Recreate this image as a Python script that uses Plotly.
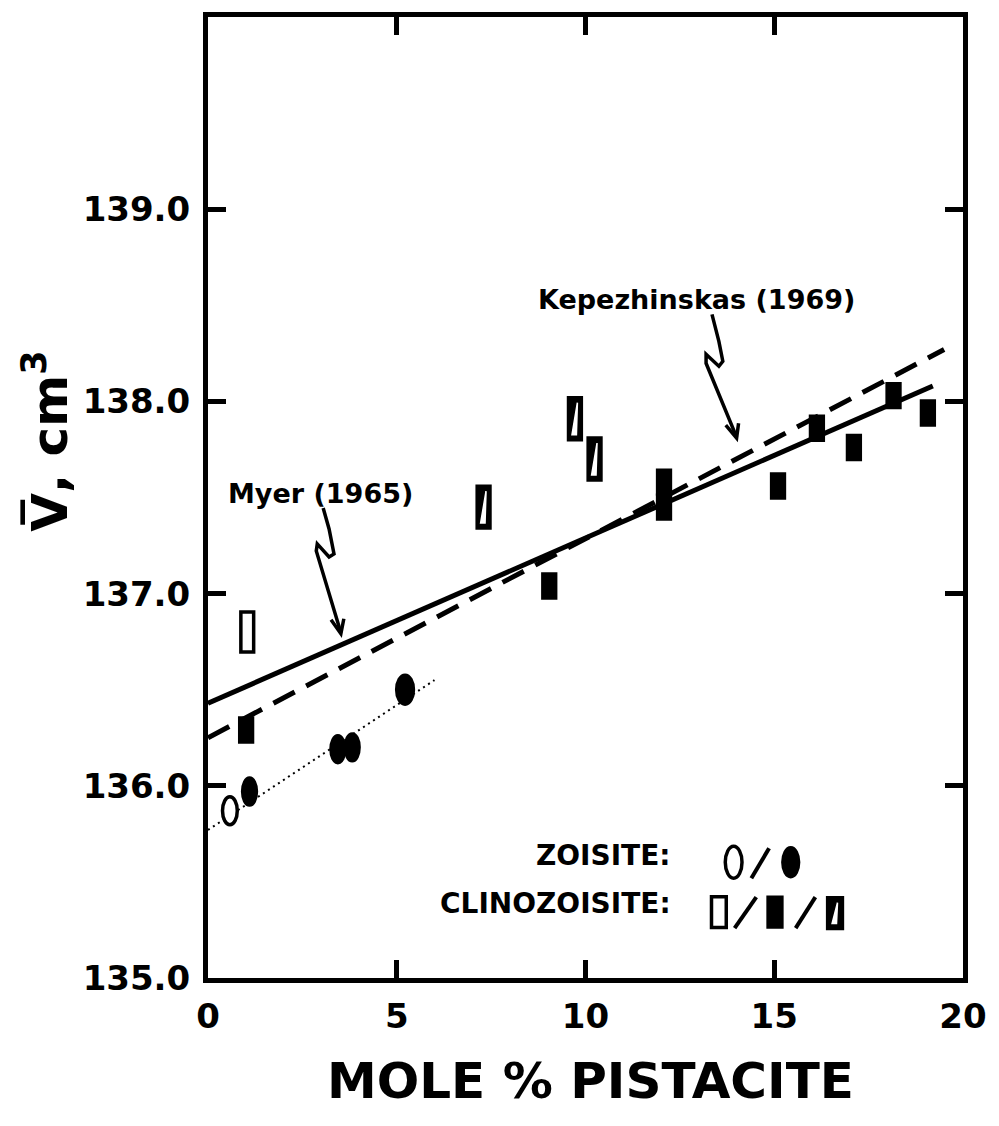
import plotly.graph_objects as go

# ---------------- data ----------------
zoisite_open_x = [0.58]
zoisite_open_y = [135.87]
zoisite_filled_x = [1.10, 3.44, 3.82, 5.22]
zoisite_filled_y = [135.97, 136.19, 136.20, 136.50]

clino_open_x = [1.04]
clino_open_y = [136.80]
clino_filled_x = [1.01, 9.04, 12.08, 12.08, 15.10, 16.13, 17.11, 18.16, 19.07]
clino_filled_y = [136.29, 137.04, 137.58, 137.45, 137.56, 137.86, 137.76, 138.03, 137.94]
clino_half_x = [7.30, 9.72, 10.24]
clino_half_y = [137.45, 137.91, 137.70]

myer_x = [0.0, 19.2]
myer_y = [136.43, 138.08]
kep_x = [0.0, 19.5]
kep_y = [136.25, 138.27]
zfit_x = [0.0, 6.0]
zfit_y = [135.77, 136.55]

x_ticks = [0, 5, 10, 15, 20]
x_ticktext = ["0", "5", "10", "15", "20"]
y_ticks = [135, 136, 137, 138, 139]
y_ticktext = ["135.0", "136.0", "137.0", "138.0", "139.0"]

# ---------------- layout geometry ----------------
W, H = 999, 1126
L, R, T, B = 208, 24, 15, 148
X_RANGE = [0, 20]
Y_RANGE = [135, 140]
XS = (W - L - R) / (X_RANGE[1] - X_RANGE[0])   # px per x unit
YS = (H - T - B) / (Y_RANGE[1] - Y_RANGE[0])   # px per y unit


def dx(px):
    return X_RANGE[0] + (px - L) / XS


def dy(py):
    return Y_RANGE[0] + (H - B - py) / YS


FONT = "DejaVu Sans"
BLACK = "black"

fig = go.Figure()

# fit lines
fig.add_trace(go.Scatter(x=myer_x, y=myer_y, mode="lines", name="Myer (1965)",
                         line=dict(color=BLACK, width=5), hoverinfo="skip"))
fig.add_trace(go.Scatter(x=kep_x, y=kep_y, mode="lines", name="Kepezhinskas (1969)",
                         line=dict(color=BLACK, width=5, dash="24px,13px"), hoverinfo="skip"))
fig.add_trace(go.Scatter(x=zfit_x, y=zfit_y, mode="lines", name="zoisite trend",
                         line=dict(color=BLACK, width=2, dash="2px,4px"), hoverinfo="skip"))

# invisible data traces (hover)
for nm, xs, ys in [("Zoisite (open)", zoisite_open_x, zoisite_open_y),
                   ("Zoisite (filled)", zoisite_filled_x, zoisite_filled_y),
                   ("Clinozoisite (open)", clino_open_x, clino_open_y),
                   ("Clinozoisite (filled)", clino_filled_x, clino_filled_y),
                   ("Clinozoisite (half)", clino_half_x, clino_half_y)]:
    fig.add_trace(go.Scatter(x=xs, y=ys, mode="markers", name=nm,
                             marker=dict(size=14, color="rgba(0,0,0,0)")))

shapes = []


def ellipse(x, y, wpx, hpx, filled):
    hw, hh = wpx / 2 / XS, hpx / 2 / YS
    shapes.append(dict(type="circle", xref="x", yref="y",
                       x0=x - hw, x1=x + hw, y0=y - hh, y1=y + hh,
                       fillcolor=BLACK if filled else "white",
                       line=dict(color=BLACK, width=3.5), layer="above"))


def rect(x, y, wpx, hpx, kind):
    hw, hh = wpx / 2 / XS, hpx / 2 / YS
    shapes.append(dict(type="rect", xref="x", yref="y",
                       x0=x - hw, x1=x + hw, y0=y - hh, y1=y + hh,
                       fillcolor="white" if kind == "open" else BLACK,
                       line=dict(color=BLACK, width=3.5), layer="above"))
    if kind == "half":
        # white sliver inside
        p1 = (x + 2.5 / XS, y + hh - 5 / YS)
        p2 = (x - 3 / XS, y - hh + 5 / YS)
        p3 = (x + 1.5 / XS, y - hh + 5 / YS)
        path = f"M {p1[0]},{p1[1]} L {p2[0]},{p2[1]} L {p3[0]},{p3[1]} Z"
        shapes.append(dict(type="path", xref="x", yref="y", path=path,
                           fillcolor="white", line=dict(color="white", width=1.5),
                           layer="above"))


for x, y in zip(zoisite_open_x, zoisite_open_y):
    ellipse(x, y, 15, 28, False)
for i, (x, y) in enumerate(zip(zoisite_filled_x, zoisite_filled_y)):
    ellipse(x, y, 14 if i < 3 else 17, 27 if i < 3 else 29, True)
for x, y in zip(clino_open_x, clino_open_y):
    rect(x, y, 13, 40, "open")
for x, y in zip(clino_filled_x, clino_filled_y):
    rect(x, y, 13, 24, "filled")
for x, y in zip(clino_half_x, clino_half_y):
    rect(x, y, 13, 42, "half")


# arrows (squiggle + open arrowhead), given in pixel positions converted to data
def arrow(pts_px, head_px):
    p = "M " + " L ".join(f"{dx(a)},{dy(b)}" for a, b in pts_px)
    shapes.append(dict(type="path", xref="x", yref="y", path=p,
                       line=dict(color=BLACK, width=3.5)))
    h = "M " + " L ".join(f"{dx(a)},{dy(b)}" for a, b in head_px)
    shapes.append(dict(type="path", xref="x", yref="y", path=h,
                       line=dict(color=BLACK, width=3.5)))


arrow([(325, 507), (331, 528), (336, 553), (331, 556), (319, 543), (318, 550), (343, 632)],
      [(333, 619), (343, 633), (346, 618)])
arrow([(720, 313), (727, 340), (731, 360), (727, 365), (714, 353), (714, 362), (745, 436)],
      [(734, 424), (745, 437), (747, 422)])

# legend glyphs
ellipse(dx(742), dy(862), 17, 32, False)
ellipse(dx(800), dy(862), 16, 29, True)
rect(dx(727), dy(912), 15, 31, "open")
rect(dx(784), dy(912), 14, 30, "filled")
rect(dx(845), dy(913), 15, 31, "half")
for a, b, c, d in [(760, 878, 778, 848), (743, 928, 765, 897), (805, 928, 825, 897)]:
    shapes.append(dict(type="line", xref="x", yref="y", x0=dx(a), y0=dy(b), x1=dx(c), y1=dy(d),
                       line=dict(color=BLACK, width=4)))

ann = []


def text(px, py, s, size, xanchor="center", angle=0):
    ann.append(dict(x=dx(px), y=dy(py), xref="x", yref="y", text=s, showarrow=False,
                    xanchor=xanchor, yanchor="middle", textangle=angle,
                    font=dict(family=FONT, size=size, color=BLACK, weight="bold")))


text(322, 492, "Myer (1965)", 27)
text(704, 298, "Kepezhinskas (1969)", 27)
text(680, 855, "ZOISITE:", 28, xanchor="right")
text(680, 903, "CLINOZOISITE:", 28, xanchor="right")

# axis titles as paper annotations
ann.append(dict(x=(597 - L) / (W - L - R), y=(H - B - 1081) / (H - T - B), xref="paper", yref="paper",
                text="MOLE % PISTACITE", showarrow=False, xanchor="center", yanchor="middle",
                font=dict(family=FONT, size=50, color=BLACK, weight="bold")))
ann.append(dict(x=(44 - L) / (W - L - R), y=(H - B - 440) / (H - T - B), xref="paper", yref="paper",
                text="V\u0305, cm<sup>3</sup>", showarrow=False, xanchor="center", yanchor="middle",
                textangle=-90,
                font=dict(family=FONT, size=50, color=BLACK, weight="bold")))

axis_common = dict(showline=True, linecolor=BLACK, linewidth=5, mirror="ticks",
                   ticks="inside", ticklen=18, tickwidth=5, tickcolor=BLACK,
                   showgrid=False, zeroline=False,
                   tickfont=dict(family=FONT, size=34, color=BLACK, weight="bold"))

fig.update_xaxes(range=X_RANGE, tickvals=x_ticks, ticktext=x_ticktext,
                 ticklabelstandoff=4, **axis_common)
fig.update_yaxes(range=Y_RANGE, tickvals=y_ticks, ticktext=y_ticktext,
                 ticklabelstandoff=6, **axis_common)

fig.update_layout(width=W, height=H, margin=dict(l=L, r=R, t=T, b=B),
                  plot_bgcolor="white", paper_bgcolor="white", showlegend=False,
                  shapes=shapes, annotations=ann)

fig.write_html("out.html")
